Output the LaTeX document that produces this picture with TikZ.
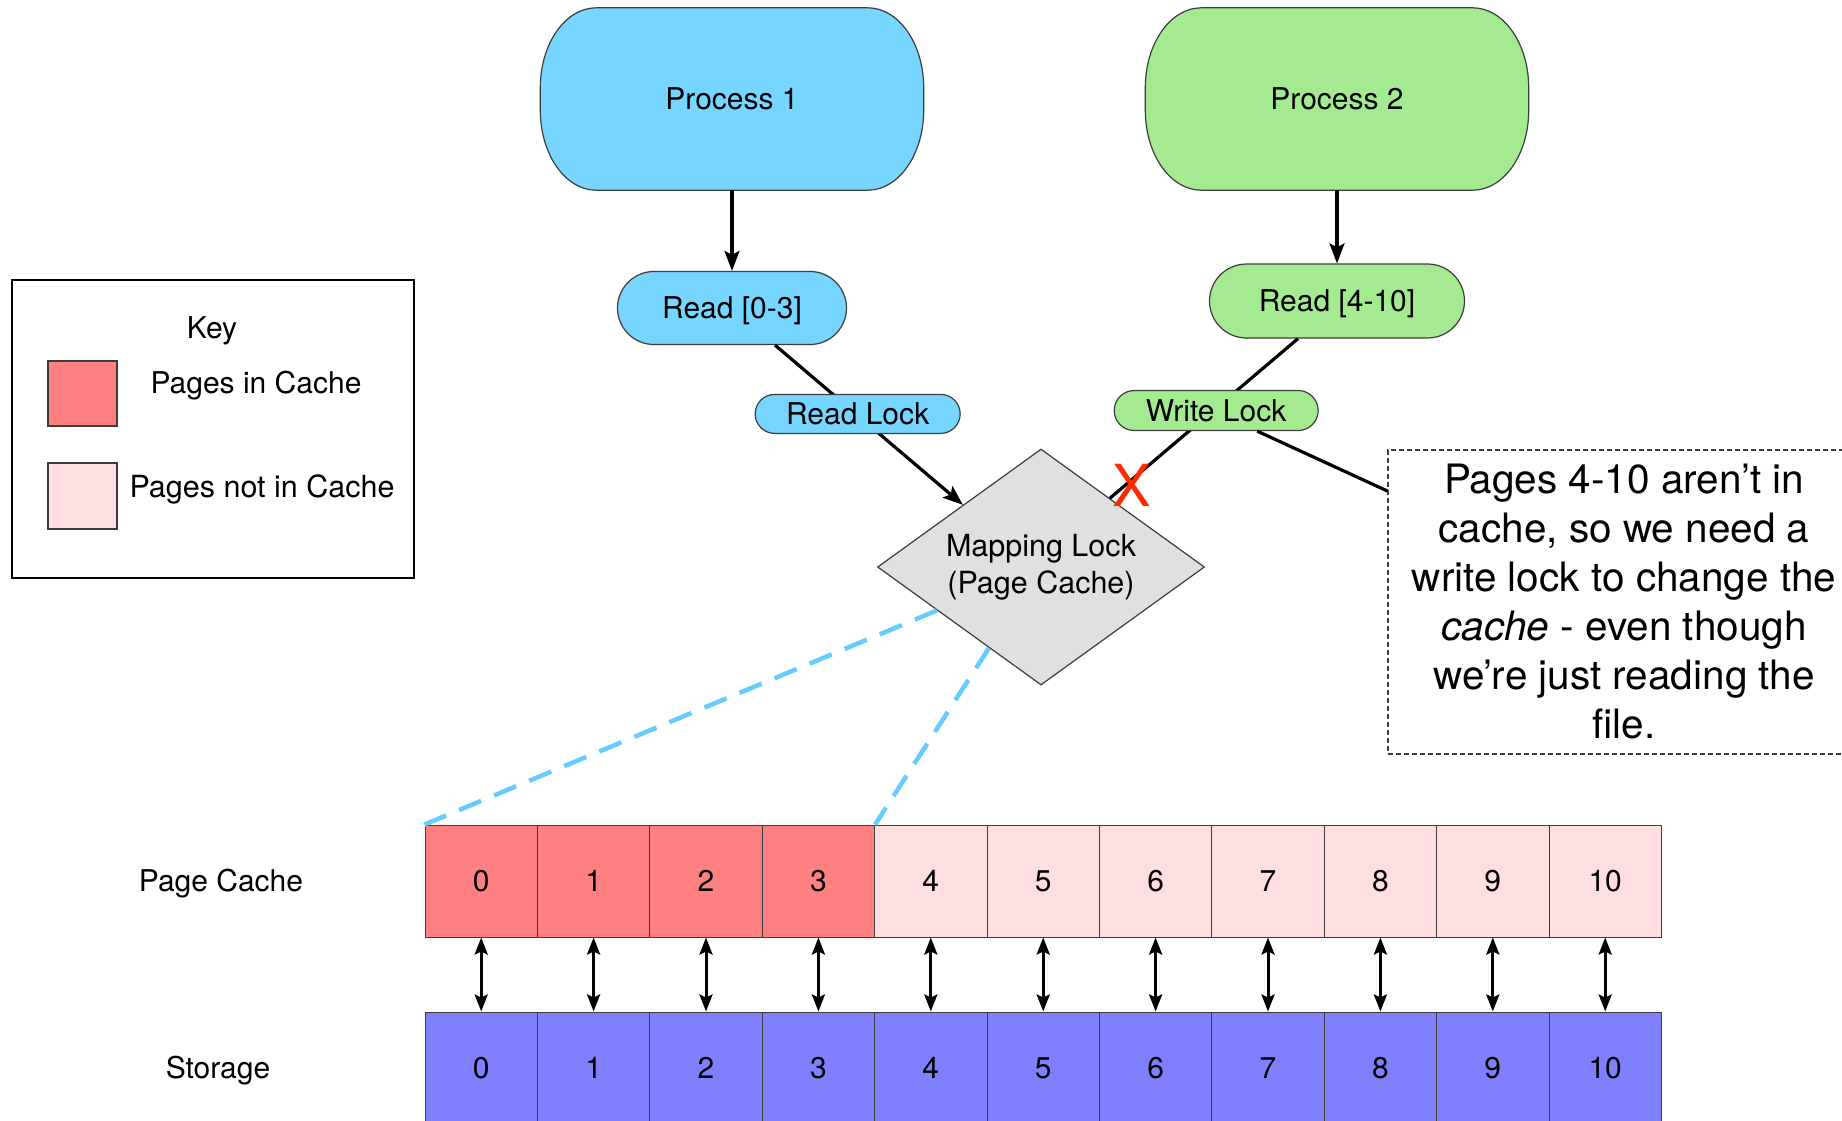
\documentclass[tikz,border=0pt]{standalone}
\usepackage{fontspec}
\setmainfont{TeX Gyre Heros}
\usetikzlibrary{shapes.misc,shapes.geometric,arrows.meta,calc,backgrounds}
\definecolor{pblue}{HTML}{76D6FF}
\definecolor{pgreen}{HTML}{A3EA90}
\definecolor{cachered}{HTML}{FF8080}
\definecolor{cachepink}{HTML}{FFDEE1}
\definecolor{storeblue}{HTML}{8080FF}
\definecolor{dgray}{HTML}{E0E0E0}
\definecolor{edgeg}{HTML}{3C3C3C}
\definecolor{dashblue}{HTML}{66CCFF}
\definecolor{xred}{HTML}{FF2A00}
\newcommand{\procshape}[2]{%
  \draw[fill=#2, draw=edgeg, line width=1.2pt]
    ($(#1.north west)+(56,0)$) -- ($(#1.north east)+(-56,0)$)
    .. controls ($(#1.north east)+(-25,0)$) and ($(#1.north east)+(0,35.8)$) .. ($(#1.north east)+(0,80)$)
    -- ($(#1.south east)+(0,-80)$)
    .. controls ($(#1.south east)+(0,-35.8)$) and ($(#1.south east)+(-25,0)$) .. ($(#1.south east)+(-56,0)$)
    -- ($(#1.south west)+(56,0)$)
    .. controls ($(#1.south west)+(25,0)$) and ($(#1.south west)+(0,-35.8)$) .. ($(#1.south west)+(0,-80)$)
    -- ($(#1.north west)+(0,80)$)
    .. controls ($(#1.north west)+(0,35.8)$) and ($(#1.north west)+(25,0)$) .. cycle;}
\begin{document}
\begin{tikzpicture}[x=1pt,y=-1pt,
  every node/.style={font=\fontsize{30}{36}\selectfont, text=black, inner sep=0pt},
  tl/.style={text height=21.6pt, text depth=0pt},
  procbox/.style={rectangle, tl, minimum width=383pt, minimum height=182pt},
  pill/.style={rounded rectangle, tl, draw=edgeg, line width=1.2pt},
  conn/.style={line width=3.2pt, black},
  tipend/.style={-{Stealth[length=20pt,width=15pt,inset=4pt]}},
  dbl/.style={line width=3pt, black, {Stealth[length=17pt,width=13pt,inset=3pt]}-{Stealth[length=17pt,width=13pt,inset=3pt]}},
  cell/.style={rectangle, draw=edgeg, line width=1pt, minimum width=112.4pt, minimum height=112pt},
  bluedash/.style={dashblue, line width=4.5pt, dash pattern=on 24pt off 14pt},
  notestyle/.style={draw=edgeg, line width=1.2pt, dash pattern=on 5pt off 3pt, minimum width=472pt, minimum height=304pt, align=center, font=\fontsize{40.5}{49}\selectfont}
]
\useasboundingbox (0,0) rectangle (1842,1120);
\clip (0,0) rectangle (1842,1120);

% legend
\node[draw=black, line width=1.2pt, minimum width=402pt, minimum height=298pt] (key) at (213,429) {};
\node[tl] (keyt) at (212,327.5) {Key};
\node[draw=edgeg, line width=1.2pt, fill=cachered, minimum width=69pt, minimum height=65pt] (k1) at (82.5,393.5) {};
\node[draw=edgeg, line width=1.2pt, fill=cachepink, minimum width=69pt, minimum height=66pt] (k2) at (82.5,496) {};
\node[tl] (k1t) at (256,383) {Pages in Cache};
\node[tl, font=\fontsize{30.5}{36}\selectfont] (k2t) at (262,487) {Pages not in Cache};

% processes
\node[procbox] (p1) at (732,99) {Process 1};
\node[procbox] (p2) at (1337,99) {Process 2};
\begin{pgfonlayer}{background}
  \procshape{p1}{pblue}
  \procshape{p2}{pgreen}
\end{pgfonlayer}
\node[pill, fill=pblue, minimum width=229pt, minimum height=73pt] (r1) at (732,308) {Read [0-3]};
\node[pill, fill=pgreen, minimum width=255pt, minimum height=74pt] (r2) at (1337,301) {Read [4-10]};

% mapping lock
\node[diamond, shape aspect=1.386, draw=edgeg, fill=dgray, line width=1.2pt, minimum width=327pt, minimum height=236pt, align=center, font=\fontsize{30.5}{36.5}\selectfont] (d) at (1041,567) {Mapping Lock\\(Page Cache)};

\draw[conn, tipend] (p1) -- (r1);
\draw[conn, tipend] (p2) -- (r2);

\draw[conn, tipend] ([xshift=43pt]r1.south) -- node[pill, fill=pblue, minimum width=205pt, minimum height=39pt, pos=0.44, yshift=1.5pt] (rl) {Read Lock} ($(d.north)!0.476!(d.west)$);
\draw[conn] ([xshift=-39pt]r2.south) -- node[pill, fill=pgreen, minimum width=204pt, minimum height=40pt, pos=0.435, yshift=-2.5pt] (wl) {Write Lock} ($(d.north)!0.42!(d.east)$);

\node[text=xred, font=\fontsize{58}{58}\selectfont] (x) at (1132,485) {X};

% note
\node[notestyle] (note) at (1624,602) {Pages 4-10 aren’t in\\cache, so we need a\\write lock to change the\\\textit{cache} - even though\\we’re just reading the\\file.};
\draw[conn] ([xshift=41pt]wl.south) -- ([yshift=111pt]note.west);

% rows
\node[tl] (pcl) at (221,881) {Page Cache};
\node[tl] (stl) at (218,1068) {Storage};
\foreach \i in {0,...,10}{
  \pgfmathsetmacro\cx{425+112.4*(\i+0.5)}
  \ifnum\i<4 \def\cf{cachered}\else\def\cf{cachepink}\fi
  \node[cell, fill=\cf] (c\i) at (\cx,881) {\i};
  \node[cell, fill=storeblue] (s\i) at (\cx,1068) {\i};
  \draw[dbl] (c\i) -- (s\i);
}
\draw[bluedash] ($(d.west)!0.366!(d.south)$) -- (c0.north west);
\draw[bluedash] ($(d.west)!0.683!(d.south)$) -- (c3.north east);
\end{tikzpicture}
\end{document}
